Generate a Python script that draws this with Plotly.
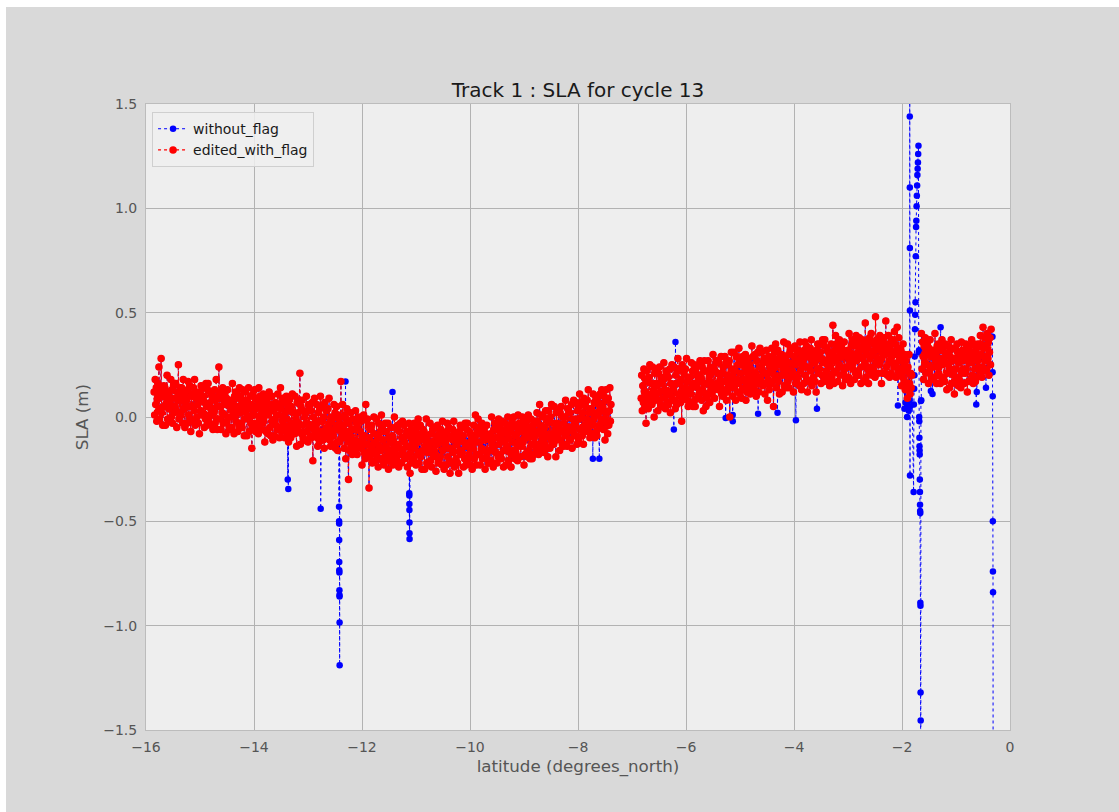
import plotly.graph_objects as go

# ---------------- data ----------------
# along-track latitude (degrees_north) and SLA (cm), three valid stretches
seg_a_lat = [
    -15.85, -15.84, -15.83, -15.82, -15.81, -15.80, -15.79, -15.78, -15.77, -15.76,
    -15.75, -15.74, -15.73, -15.72, -15.71, -15.70, -15.69, -15.68, -15.67, -15.66,
    -15.65, -15.64, -15.63, -15.62, -15.61, -15.60, -15.59, -15.58, -15.57, -15.56,
    -15.55, -15.54, -15.53, -15.52, -15.51, -15.50, -15.49, -15.48, -15.47, -15.46,
    -15.45, -15.44, -15.43, -15.42, -15.41, -15.40, -15.39, -15.38, -15.37, -15.36,
    -15.35, -15.34, -15.33, -15.32, -15.31, -15.30, -15.29, -15.28, -15.27, -15.26,
    -15.25, -15.24, -15.23, -15.22, -15.21, -15.20, -15.19, -15.18, -15.17, -15.16,
    -15.15, -15.14, -15.13, -15.12, -15.11, -15.10, -15.09, -15.08, -15.07, -15.06,
    -15.05, -15.04, -15.03, -15.02, -15.01, -15.00, -14.99, -14.98, -14.97, -14.96,
    -14.95, -14.94, -14.93, -14.92, -14.91, -14.90, -14.89, -14.88, -14.87, -14.86,
    -14.85, -14.84, -14.83, -14.82, -14.81, -14.80, -14.79, -14.78, -14.77, -14.76,
    -14.75, -14.74, -14.73, -14.72, -14.71, -14.70, -14.69, -14.68, -14.67, -14.66,
    -14.65, -14.64, -14.63, -14.62, -14.61, -14.60, -14.59, -14.58, -14.57, -14.56,
    -14.55, -14.54, -14.53, -14.52, -14.51, -14.50, -14.49, -14.48, -14.47, -14.46,
    -14.45, -14.44, -14.43, -14.42, -14.41, -14.40, -14.39, -14.38, -14.37, -14.36,
    -14.35, -14.34, -14.33, -14.32, -14.31, -14.30, -14.29, -14.28, -14.27, -14.26,
    -14.25, -14.24, -14.23, -14.22, -14.21, -14.20, -14.19, -14.18, -14.17, -14.16,
    -14.15, -14.14, -14.13, -14.12, -14.11, -14.10, -14.09, -14.08, -14.07, -14.06,
    -14.05, -14.04, -14.03, -14.02, -14.01, -14.00, -13.99, -13.98, -13.97, -13.96,
    -13.95, -13.94, -13.93, -13.92, -13.91, -13.90, -13.89, -13.88, -13.87, -13.86,
    -13.85, -13.84, -13.83, -13.82, -13.81, -13.80, -13.79, -13.78, -13.77, -13.76,
    -13.75, -13.74, -13.73, -13.72, -13.71, -13.70, -13.69, -13.68, -13.67, -13.66,
    -13.65, -13.64, -13.63, -13.62, -13.61, -13.60, -13.59, -13.58, -13.57, -13.56,
    -13.55, -13.54, -13.53, -13.52, -13.51, -13.50, -13.49, -13.48, -13.47, -13.46,
    -13.45, -13.44, -13.43, -13.42, -13.41, -13.40, -13.39, -13.38, -13.37, -13.36,
    -13.35, -13.34, -13.33, -13.32, -13.31, -13.30, -13.29, -13.28, -13.27, -13.26,
    -13.25, -13.24, -13.23, -13.22, -13.21, -13.20, -13.19, -13.18, -13.17, -13.16,
    -13.15, -13.14, -13.13, -13.12, -13.11, -13.10, -13.09, -13.08, -13.07, -13.06,
    -13.05, -13.04, -13.03, -13.02, -13.01, -13.00, -12.99, -12.98, -12.97, -12.96,
    -12.95, -12.94, -12.93, -12.92, -12.91, -12.90, -12.89, -12.88, -12.87, -12.86,
    -12.85, -12.84, -12.83, -12.82, -12.81, -12.80, -12.79, -12.78, -12.77, -12.76,
    -12.75, -12.74, -12.73, -12.72, -12.71, -12.70, -12.69, -12.68, -12.67, -12.66,
    -12.65, -12.64, -12.63, -12.62, -12.61, -12.60, -12.59, -12.58, -12.57, -12.56,
    -12.55, -12.54, -12.53, -12.52, -12.51, -12.50, -12.49, -12.48, -12.47, -12.46,
    -12.45, -12.44, -12.43, -12.42, -12.41, -12.40, -12.39, -12.38, -12.37, -12.36,
    -12.35, -12.34, -12.33, -12.32, -12.31, -12.30, -12.29, -12.28, -12.27, -12.26,
    -12.25, -12.24, -12.23, -12.22, -12.21, -12.20, -12.19, -12.18, -12.17, -12.16,
    -12.15, -12.14, -12.13, -12.12, -12.11, -12.10, -12.09, -12.08, -12.07, -12.06,
    -12.05, -12.04, -12.03, -12.02, -12.01, -12.00, -11.99, -11.98, -11.97, -11.96,
    -11.95, -11.94, -11.93, -11.92, -11.91, -11.90, -11.89, -11.88, -11.87, -11.86,
    -11.85, -11.84, -11.83, -11.82, -11.81, -11.80, -11.79, -11.78, -11.77, -11.76,
    -11.75, -11.74, -11.73, -11.72, -11.71, -11.70, -11.69, -11.68, -11.67, -11.66,
    -11.65, -11.64, -11.63, -11.62, -11.61, -11.60, -11.59, -11.58, -11.57, -11.56,
    -11.55, -11.54, -11.53, -11.52, -11.51, -11.50, -11.49, -11.48, -11.47, -11.46,
    -11.45, -11.44, -11.43, -11.42, -11.41, -11.40, -11.39, -11.38, -11.37, -11.36,
    -11.35, -11.34, -11.33, -11.32, -11.31, -11.30, -11.29, -11.28, -11.27, -11.26,
    -11.25, -11.24, -11.23, -11.22, -11.21, -11.20, -11.19, -11.18, -11.17, -11.16,
    -11.15, -11.14, -11.13, -11.12, -11.11, -11.10, -11.09, -11.08, -11.07, -11.06,
    -11.05, -11.04, -11.03, -11.02, -11.01, -11.00, -10.99, -10.98, -10.97, -10.96,
    -10.95, -10.94, -10.93, -10.92, -10.91, -10.90, -10.89, -10.88, -10.87, -10.86,
    -10.85, -10.84, -10.83, -10.82, -10.81, -10.80, -10.79, -10.78, -10.77, -10.76,
    -10.75, -10.74, -10.73, -10.72, -10.71, -10.70, -10.69, -10.68, -10.67, -10.66,
    -10.65, -10.64, -10.63, -10.62, -10.61, -10.60, -10.59, -10.58, -10.57, -10.56,
    -10.55, -10.54, -10.53, -10.52, -10.51, -10.50, -10.49, -10.48, -10.47, -10.46,
    -10.45, -10.44, -10.43, -10.42, -10.41, -10.40, -10.39, -10.38, -10.37, -10.36,
    -10.35, -10.34, -10.33, -10.32, -10.31, -10.30, -10.29, -10.28, -10.27, -10.26,
    -10.25, -10.24, -10.23, -10.22, -10.21, -10.20, -10.19, -10.18, -10.17, -10.16,
    -10.15, -10.14, -10.13, -10.12, -10.11, -10.10, -10.09, -10.08, -10.07, -10.06,
    -10.05, -10.04, -10.03, -10.02, -10.01, -10.00, -9.99, -9.98, -9.97, -9.96,
    -9.95, -9.94, -9.93, -9.92, -9.91, -9.90, -9.89, -9.88, -9.87, -9.86,
    -9.85, -9.84, -9.83, -9.82, -9.81, -9.80, -9.79, -9.78, -9.77, -9.76,
    -9.75, -9.74, -9.73, -9.72, -9.71, -9.70, -9.69, -9.68, -9.67, -9.66,
    -9.65, -9.64, -9.63, -9.62, -9.61, -9.60, -9.59, -9.58, -9.57, -9.56,
    -9.55, -9.54, -9.53, -9.52, -9.51, -9.50, -9.49, -9.48, -9.47, -9.46,
    -9.45, -9.44, -9.43, -9.42, -9.41, -9.40, -9.39, -9.38, -9.37, -9.36,
    -9.35, -9.34, -9.33, -9.32, -9.31, -9.30, -9.29, -9.28, -9.27, -9.26,
    -9.25, -9.24, -9.23, -9.22, -9.21, -9.20, -9.19, -9.18, -9.17, -9.16,
    -9.15, -9.14, -9.13, -9.12, -9.11, -9.10, -9.09, -9.08, -9.07, -9.06,
    -9.05, -9.04, -9.03, -9.02, -9.01, -9.00, -8.99, -8.98, -8.97, -8.96,
    -8.95, -8.94, -8.93, -8.92, -8.91, -8.90, -8.89, -8.88, -8.87, -8.86,
    -8.85, -8.84, -8.83, -8.82, -8.81, -8.80, -8.79, -8.78, -8.77, -8.76,
    -8.75, -8.74, -8.73, -8.72, -8.71, -8.70, -8.69, -8.68, -8.67, -8.66,
    -8.65, -8.64, -8.63, -8.62, -8.61, -8.60, -8.59, -8.58, -8.57, -8.56,
    -8.55, -8.54, -8.53, -8.52, -8.51, -8.50, -8.49, -8.48, -8.47, -8.46,
    -8.45, -8.44, -8.43, -8.42, -8.41, -8.40, -8.39, -8.38, -8.37, -8.36,
    -8.35, -8.34, -8.33, -8.32, -8.31, -8.30, -8.29, -8.28, -8.27, -8.26,
    -8.25, -8.24, -8.23, -8.22, -8.21, -8.20, -8.19, -8.18, -8.17, -8.16,
    -8.15, -8.14, -8.13, -8.12, -8.11, -8.10, -8.09, -8.08, -8.07, -8.06,
    -8.05, -8.04, -8.03, -8.02, -8.01, -8.00, -7.99, -7.98, -7.97, -7.96,
    -7.95, -7.94, -7.93, -7.92, -7.91, -7.90, -7.89, -7.88, -7.87, -7.86,
    -7.85, -7.84, -7.83, -7.82, -7.81, -7.80, -7.79, -7.78, -7.77, -7.76,
    -7.75, -7.74, -7.73, -7.72, -7.71, -7.70, -7.69, -7.68, -7.67, -7.66,
    -7.65, -7.64, -7.63, -7.62, -7.61, -7.60, -7.59, -7.58, -7.57, -7.56,
    -7.55, -7.54, -7.53, -7.52, -7.51, -7.50, -7.49, -7.48, -7.47, -7.46,
    -7.45, -7.44, -7.43, -7.42, -7.41, -7.40, -7.39,
]
seg_a_sla_cm = [
    12, 1, 18, 6, 14, -2, 9, 16, 3, 24,
    -1, 11, 4, 28, 2, 13, -4, 10, 15, 5,
    14, -4, 10, 7, 20, -1, 12, 4, 9, -2,
    6, 18, 0, 13, -3, 9, 15, 2, 16, 5,
    16, 3, -5, 12, 8, 25, -1, 10, 1, 14,
    1, 14, 8, -3, 18, 4, 10, -5, 12, 6,
    8, -3, 13, 17, 1, 5, 15, -1, -7, 10,
    -2, 11, 5, 14, 3, 18, -4, 9, 12, 0,
    11, 6, -3, 9, -8, 12, 3, 15, 1, 8,
    2, 14, 10, -5, 7, -1, 16, 5, -4, 13,
    16, -1, 6, 1, 12, 4, -4, 10, 8, -6,
    4, 2, 13, -3, 8, 18, -1, -6, 5, 10,
    24, -1, 12, 5, -6, 10, 2, 14, -3, 8,
    1, 11, 6, -8, 9, -2, 13, 0, 7, -5,
    -6, 5, 0, 8, -5, 16, 3, 6, -8, 10,
    1, 12, -2, 11, 5, -7, 9, -4, 14, 2,
    10, -3, 6, -5, 13, 4, 8, -9, -1, 12,
    2, 8, -9, 6, 0, 14, -7, 4, 10, -3,
    6, -15, -5, 11, 1, -3, 13, 9, -7, 4,
    -4, 8, 5, -8, 14, -1, 10, 1, 7, -6,
    4, -3, 11, -1, 8, -12, 5, -7, 2, 7,
    9, -8, 1, 12, -5, 3, -9, 6, 10, -2,
    -11, 3, 5, -9, -1, 7, -4, 1, -6, 11,
    6, 1, -10, -5, 14, 4, -7, 9, -2, 0,
    -4, 7, -10, 2, -6, 10, -1, -8, 5, -12,
    8, -4, 3, -10, 5, -6, 11, -3, -8, 2,
    -8, 10, -4, -1, -14, 7, -6, 2, -3, 8,
    21, -13, 5, -8, 8, -4, -10, 3, -11, 0,
    -11, 2, 10, -7, -3, -12, 6, -5, 4, -9,
    3, -10, -4, 7, -21, 0, -6, 9, -8, -2,
    -5, 6, -10, -14, 2, -2, -12, 4, 10, -7,
    5, -8, -2, -11, 0, -15, 7, -6, -9, 3,
    -10, -5, 4, -8, 9, -11, -2, -14, 0, -7,
    -1, -13, -9, 6, -6, 2, -15, -4, 5, -12,
    -16, 1, -6, -1, -12, -4, 17, -10, -8, 6,
    -6, -4, -15, 1, -10, -20, -1, 4, -7, -12,
    -30, -3, -16, -9, 2, -14, -6, -18, -1, -12,
    -6, -16, -11, 3, -14, -3, -18, -5, -12, 0,
    -1, -12, -7, -15, -2, -23, -10, -13, 1, -17,
    -9, -20, 6, -19, -13, -1, -17, -4, -34, -10,
    -19, -6, -15, -4, -22, -13, -17, 0, -8, -21,
    -12, -18, -1, -16, -10, -24, -3, -14, -20, -7,
    -16, 1, -5, -21, -11, -7, -23, -19, -3, -14,
    -7, -19, -16, -3, -25, -10, -21, -12, -18, -5,
    -16, -9, -23, -11, -20, 0, -17, -5, -14, -19,
    -21, -4, -13, -24, -7, -15, -3, -18, -22, -10,
    -2, -16, -18, -4, -12, -20, -9, -14, -7, -24,
    -19, -14, -3, -8, -27, -17, -6, -22, -11, -13,
    -9, -20, -3, -15, -7, -23, -12, -5, -18, -1,
    -22, -10, -17, -4, -19, -8, -25, -11, -6, -16,
    -7, -25, -11, -14, -1, -22, -9, -17, -12, -23,
    -15, -3, -21, -8, -24, -12, -6, -19, -5, -16,
    -5, -18, -26, -9, -13, -4, -22, -11, -20, -7,
    -19, -6, -12, -23, -2, -16, -10, -25, -8, -14,
    -12, -23, -7, -3, -19, -15, -5, -21, -27, -10,
    -22, -9, -15, -6, -17, -2, -24, -11, -8, -20,
    -8, -13, -22, -10, -27, -7, -16, -4, -18, -11,
    -17, -5, -9, -24, -12, -20, -3, -14, -23, -6,
    -3, -20, -13, -18, -7, -15, -23, -9, -11, -25,
    -13, -15, -4, -20, -9, 1, -18, -23, -12, -7,
    -1, -18, -5, -12, -23, -7, -15, -3, -20, -9,
    -16, -6, -11, -25, -8, -19, -4, -17, -10, -22,
    -22, -11, -16, -8, -21, 0, -13, -10, -24, -6,
    -14, -3, -17, -4, -10, -22, -6, -19, -1, -13,
    -5, -18, -9, -20, -2, -11, -7, -24, -16, -3,
    -12, -6, -23, -8, -14, 0, -21, -10, -4, -17,
    -7, -24, -18, -2, -12, -16, 0, -4, -20, -9,
    -17, -5, -8, -21, 1, -14, -3, -12, -6, -19,
    -7, -14, 0, -12, -3, -23, -6, -18, -9, -4,
    -2, -19, -10, 1, -16, -8, -20, -5, -1, -13,
    -20, -6, -4, -18, -10, -2, -13, -8, -15, 2,
    -2, -7, -18, -13, 6, -4, -15, 1, -10, -8,
    -11, 0, -17, -5, -13, 3, -8, -15, -2, -19,
    3, -9, -2, -15, 0, -11, 6, -8, -13, -3,
    -13, 5, -9, -6, -19, 2, -11, -3, -8, 3,
    -4, -16, 2, -11, 5, -7, -13, 0, -14, -3,
    -13, 0, 8, -9, -5, -14, 4, -7, 2, -11,
    2, -11, -5, 6, -15, -1, -7, 8, -9, -3,
    -4, 7, -9, -13, 3, -1, -11, 5, 11, -6,
    7, -6, 0, -9, 2, -13, 9, -4, -7, 5,
    -6, -1, 8, -4, 13, -7, 2, -10, 4, -3,
    4, -8, -4, 11, -1, 7, -10, 1, 10, -7,
    -9, 8, 1, 6, -5, 3, 11, -3, -1, 13,
    3, 5, -6, 10, -1, -11, 8, 13, 2, -3,
    -8, 9, -4, 3, 14, -2, 6,
]

seg_b_lat = [
    -6.83, -6.82, -6.81, -6.80, -6.79, -6.78, -6.77, -6.76, -6.75, -6.74,
    -6.73, -6.72, -6.71, -6.70, -6.69, -6.68, -6.67, -6.66, -6.65, -6.64,
    -6.63, -6.62, -6.61, -6.60, -6.59, -6.58, -6.57, -6.56, -6.55, -6.54,
    -6.53, -6.52, -6.51, -6.50, -6.49, -6.48, -6.47, -6.46, -6.45, -6.44,
    -6.43, -6.42, -6.41, -6.40, -6.39, -6.38, -6.37, -6.36, -6.35, -6.34,
    -6.33, -6.32, -6.31, -6.30, -6.29, -6.28, -6.27, -6.26, -6.25, -6.24,
    -6.23, -6.22, -6.21, -6.20, -6.19, -6.18, -6.17, -6.16, -6.15, -6.14,
    -6.13, -6.12, -6.11, -6.10, -6.09, -6.08, -6.07, -6.06, -6.05, -6.04,
    -6.03, -6.02, -6.01, -6.00, -5.99, -5.98, -5.97, -5.96, -5.95, -5.94,
    -5.93, -5.92, -5.91, -5.90, -5.89, -5.88, -5.87, -5.86, -5.85, -5.84,
    -5.83, -5.82, -5.81, -5.80, -5.79, -5.78, -5.77, -5.76, -5.75, -5.74,
    -5.73, -5.72, -5.71, -5.70, -5.69, -5.68, -5.67, -5.66, -5.65, -5.64,
    -5.63, -5.62, -5.61, -5.60, -5.59, -5.58, -5.57, -5.56, -5.55, -5.54,
    -5.53, -5.52, -5.51, -5.50, -5.49, -5.48, -5.47, -5.46, -5.45, -5.44,
    -5.43, -5.42, -5.41, -5.40, -5.39, -5.38, -5.37, -5.36, -5.35, -5.34,
    -5.33, -5.32, -5.31, -5.30, -5.29, -5.28, -5.27, -5.26, -5.25, -5.24,
    -5.23, -5.22, -5.21, -5.20, -5.19, -5.18, -5.17, -5.16, -5.15, -5.14,
    -5.13, -5.12, -5.11, -5.10, -5.09, -5.08, -5.07, -5.06, -5.05, -5.04,
    -5.03, -5.02, -5.01, -5.00, -4.99, -4.98, -4.97, -4.96, -4.95, -4.94,
    -4.93, -4.92, -4.91, -4.90, -4.89, -4.88, -4.87, -4.86, -4.85, -4.84,
    -4.83, -4.82, -4.81, -4.80, -4.79, -4.78, -4.77, -4.76, -4.75, -4.74,
    -4.73, -4.72, -4.71, -4.70, -4.69, -4.68, -4.67, -4.66, -4.65, -4.64,
    -4.63, -4.62, -4.61, -4.60, -4.59, -4.58, -4.57, -4.56, -4.55, -4.54,
    -4.53, -4.52, -4.51, -4.50, -4.49, -4.48, -4.47, -4.46, -4.45, -4.44,
    -4.43, -4.42, -4.41, -4.40, -4.39, -4.38, -4.37, -4.36, -4.35, -4.34,
    -4.33, -4.32, -4.31, -4.30, -4.29, -4.28, -4.27, -4.26, -4.25, -4.24,
    -4.23, -4.22, -4.21, -4.20, -4.19, -4.18, -4.17, -4.16, -4.15, -4.14,
    -4.13, -4.12, -4.11, -4.10, -4.09, -4.08, -4.07, -4.06, -4.05, -4.04,
    -4.03, -4.02, -4.01, -4.00, -3.99, -3.98, -3.97, -3.96, -3.95, -3.94,
    -3.93, -3.92, -3.91, -3.90, -3.89, -3.88, -3.87, -3.86, -3.85, -3.84,
    -3.83, -3.82, -3.81, -3.80, -3.79, -3.78, -3.77, -3.76, -3.75, -3.74,
    -3.73, -3.72, -3.71, -3.70, -3.69, -3.68, -3.67, -3.66, -3.65, -3.64,
    -3.63, -3.62, -3.61, -3.60, -3.59, -3.58, -3.57, -3.56, -3.55, -3.54,
    -3.53, -3.52, -3.51, -3.50, -3.49, -3.48, -3.47, -3.46, -3.45, -3.44,
    -3.43, -3.42, -3.41, -3.40, -3.39, -3.38, -3.37, -3.36, -3.35, -3.34,
    -3.33, -3.32, -3.31, -3.30, -3.29, -3.28, -3.27, -3.26, -3.25, -3.24,
    -3.23, -3.22, -3.21, -3.20, -3.19, -3.18, -3.17, -3.16, -3.15, -3.14,
    -3.13, -3.12, -3.11, -3.10, -3.09, -3.08, -3.07, -3.06, -3.05, -3.04,
    -3.03, -3.02, -3.01, -3.00, -2.99, -2.98, -2.97, -2.96, -2.95, -2.94,
    -2.93, -2.92, -2.91, -2.90, -2.89, -2.88, -2.87, -2.86, -2.85, -2.84,
    -2.83, -2.82, -2.81, -2.80, -2.79, -2.78, -2.77, -2.76, -2.75, -2.74,
    -2.73, -2.72, -2.71, -2.70, -2.69, -2.68, -2.67, -2.66, -2.65, -2.64,
    -2.63, -2.62, -2.61, -2.60, -2.59, -2.58, -2.57, -2.56, -2.55, -2.54,
    -2.53, -2.52, -2.51, -2.50, -2.49, -2.48, -2.47, -2.46, -2.45, -2.44,
    -2.43, -2.42, -2.41, -2.40, -2.39, -2.38, -2.37, -2.36, -2.35, -2.34,
    -2.33, -2.32, -2.31, -2.30, -2.29, -2.28, -2.27, -2.26, -2.25, -2.24,
    -2.23, -2.22, -2.21, -2.20, -2.19, -2.18, -2.17, -2.16, -2.15, -2.14,
    -2.13, -2.12, -2.11, -2.10, -2.09, -2.08, -2.07, -2.06, -2.05, -2.04,
    -2.03, -2.02, -2.01, -2.00, -1.99, -1.98, -1.97, -1.96, -1.95, -1.94,
    -1.93, -1.92, -1.91, -1.90, -1.89, -1.88, -1.87, -1.86, -1.85, -1.84,
    -1.83, -1.82,
]
seg_b_sla_cm = [
    9, 20, 3, 15, 7, 23, 12, 5, 18, -3,
    22, 10, 17, 4, 19, 8, 25, 11, 6, 16,
    6, 24, 10, 13, 0, 21, 8, 16, 11, 22,
    15, 3, 21, 8, 24, 12, 6, 19, 5, 16,
    5, 18, 26, 9, 13, 4, 22, 11, 20, 7,
    19, 6, 12, 23, 2, 16, 10, 25, 8, 14,
    13, 24, 8, 4, 20, 16, 6, 22, 28, 11,
    23, 10, 16, 7, 18, -2, 25, 12, 9, 21,
    9, 14, 23, 11, 28, 8, 17, 5, 19, 12,
    19, 7, 11, 26, 14, 22, 5, 16, 25, 8,
    5, 22, 15, 20, 9, 17, 25, 11, 13, 27,
    17, 19, 8, 24, 13, 3, 22, 27, 16, 11,
    5, 22, 9, 16, 27, 11, 19, 7, 24, 13,
    21, 11, 16, 30, 13, 24, 9, 22, 15, 27,
    27, 16, 21, 13, 26, 5, 18, 15, 29, 11,
    21, 10, 24, 11, 17, 29, 13, 26, 8, 20,
    12, 25, 16, 27, 0, 18, 14, 31, 23, 10,
    20, 14, 31, 16, 22, 8, 29, 18, 12, 25,
    16, 33, 27, 11, 21, 25, 9, 13, 29, 18,
    26, 14, 17, 30, 8, 23, 12, 21, 15, 28,
    18, 25, 11, 23, 14, 34, 17, 29, 20, 15,
    13, 30, 21, 10, 27, 19, 31, 16, 12, 24,
    33, 19, 17, 31, 23, 15, 26, 21, 28, 11,
    16, 21, 32, 27, 8, 18, 29, 13, 24, 22,
    27, 16, 33, 21, 29, 5, 24, 31, 18, 35,
    14, 26, 19, 32, 17, 28, 11, 25, 30, 20,
    30, 12, 26, 23, 36, 15, 28, 20, 25, 14,
    23, 35, 17, 30, 14, 26, 32, 19, 33, 22,
    33, 20, 12, 29, 25, 34, 16, 27, 18, 31,
    19, 32, 26, 15, 36, 22, 28, 13, 30, 24,
    27, 16, 32, 36, 20, 24, 34, 18, 12, 29,
    17, 30, 24, 33, 22, 37, 15, 28, 31, 19,
    31, 26, 17, 29, 12, 32, 23, 35, 21, 28,
    23, 35, 31, 16, 28, 20, 37, 26, 17, 34,
    37, 20, 27, 22, 33, 25, 17, 31, 29, 15,
    26, 24, 35, 19, 30, 44, 21, 16, 27, 32,
    39, 22, 35, 28, 17, 33, 25, 37, 20, 31,
    24, 34, 29, 15, 32, 21, 36, 23, 30, 18,
    18, 29, 24, 32, 19, 40, 27, 30, 16, 34,
    26, 37, 23, 36, 30, 18, 34, 21, 39, 27,
    35, 22, 31, 20, 38, 29, 33, 16, 24, 37,
    28, 34, 17, 32, 26, 45, 19, 30, 36, 23,
    33, 16, 22, 38, 28, 24, 40, 36, 20, 31,
    23, 35, 32, 19, 48, 26, 37, 28, 34, 21,
    32, 25, 39, 27, 36, 16, 33, 21, 30, 35,
    38, 21, 30, 46, 24, 32, 20, 35, 39, 27,
    19, 33, 35, 21, 29, 37, 26, 31, 24, 41,
    35, 30, 19, 24, 43, 33, 22, 38, 27, 29,
    21, 32, 15, 27, 19, 35, 24, 17, 30, 13,
    27, 15, 22, 9, 24, 13, 30, 16, 11, 21,
    14, 20,
]

seg_c_lat = [
    -1.64, -1.63, -1.62, -1.61, -1.60, -1.59, -1.58, -1.57, -1.56, -1.55,
    -1.54, -1.53, -1.52, -1.51, -1.50, -1.49, -1.48, -1.47, -1.46, -1.45,
    -1.44, -1.43, -1.42, -1.41, -1.40, -1.39, -1.38, -1.37, -1.36, -1.35,
    -1.34, -1.33, -1.32, -1.31, -1.30, -1.29, -1.28, -1.27, -1.26, -1.25,
    -1.24, -1.23, -1.22, -1.21, -1.20, -1.19, -1.18, -1.17, -1.16, -1.15,
    -1.14, -1.13, -1.12, -1.11, -1.10, -1.09, -1.08, -1.07, -1.06, -1.05,
    -1.04, -1.03, -1.02, -1.01, -1.00, -0.99, -0.98, -0.97, -0.96, -0.95,
    -0.94, -0.93, -0.92, -0.91, -0.90, -0.89, -0.88, -0.87, -0.86, -0.85,
    -0.84, -0.83, -0.82, -0.81, -0.80, -0.79, -0.78, -0.77, -0.76, -0.75,
    -0.74, -0.73, -0.72, -0.71, -0.70, -0.69, -0.68, -0.67, -0.66, -0.65,
    -0.64, -0.63, -0.62, -0.61, -0.60, -0.59, -0.58, -0.57, -0.56, -0.55,
    -0.54, -0.53, -0.52, -0.51, -0.50, -0.49, -0.48, -0.47, -0.46, -0.45,
    -0.44, -0.43, -0.42, -0.41, -0.40, -0.39, -0.38, -0.37, -0.36, -0.35,
]
seg_c_sla_cm = [
    40, 23, 36, 29, 18, 34, 26, 38, 21, 32,
    25, 35, 30, 16, 33, 22, 37, 24, 31, 19,
    18, 29, 24, 32, 19, 40, 27, 30, 16, 34,
    24, 35, 21, 34, 28, 16, 32, 19, 37, 25,
    32, 19, 28, 17, 35, 26, 30, 13, 21, 34,
    25, 31, 14, 29, 23, 37, 16, 27, 33, 20,
    28, 11, 17, 33, 23, 19, 35, 31, 15, 26,
    18, 30, 27, 14, 36, 21, 32, 23, 29, 16,
    28, 21, 35, 23, 32, 12, 29, 17, 26, 31,
    34, 17, 26, 37, 20, 28, 16, 31, 35, 23,
    17, 31, 33, 19, 27, 35, 24, 29, 22, 39,
    35, 30, 19, 24, 43, 33, 22, 38, 27, 29,
    34, 23, 40, 28, 36, 20, 31, 38, 25, 42,
]

# points removed by the editing flag (only present in "without_flag"), SLA in m
flag_lat = [
    -13.375, -13.365, -12.765,
    -12.425, -12.424, -12.423, -12.422, -12.421, -12.4205,
    -12.419, -12.418, -12.417, -12.416, -12.415, -12.414,
    -12.305, -11.435,
    -11.125, -11.124, -11.123, -11.122, -11.121, -11.1205, -11.119,
    -7.725, -7.605, -6.225, -6.195, -5.265, -5.135, -5.134,
    -4.665, -4.305, -3.965, -3.575, -2.075,
    -1.955, -1.935, -1.905, -1.895, -1.875,
    -1.858, -1.857, -1.856, -1.855, -1.854, -1.853, -1.852, -1.851,
    -1.785, -1.780, -1.775, -1.770, -1.765, -1.760, -1.755, -1.750,
    -1.745, -1.740, -1.735, -1.730, -1.725, -1.720, -1.715, -1.710,
    -1.705, -1.700, -1.695, -1.690,
    -1.684, -1.682, -1.680, -1.678, -1.676, -1.674, -1.672, -1.670,
    -1.668, -1.666, -1.664, -1.662, -1.660, -1.658, -1.656, -1.654,
    -1.652, -1.650, -1.643,
    -1.465, -1.435, -1.285, -0.625, -0.615, -0.445,
    -0.325, -0.322, -0.320, -0.318, -0.316, -0.314, -0.312,
]
flag_sla = [
    -0.30, -0.345, -0.44,
    -0.43, -0.50, -0.51, -0.59, -0.695, -0.735,
    -0.745, -0.83, -0.853, -0.86, -0.985, -1.19,
    0.17, 0.12,
    -0.366, -0.376, -0.417, -0.446, -0.506, -0.557, -0.585,
    -0.20, -0.20, -0.06, 0.36, -0.005, 0.01, -0.02,
    0.015, 0.02, -0.015, 0.04, 0.055,
    0.04, 0.07, 0.00, 0.06, 0.03,
    0.08, 2.20, 1.44, 1.10, 0.81, 0.51, -0.28, 0.05,
    -0.36, 0.06, 0.135, 0.20, 0.29, 0.42, 0.49, 0.55,
    0.77, 0.91, 0.94, 1.01, 1.06, 1.11, 1.16, 1.19,
    1.22, 1.26, 1.30, 0.31,
    0.32, 0.00, -0.02, -0.10, -0.14, -0.16, -0.18, -0.30,
    -0.36, -0.42, -0.45, -0.46, -0.89, -0.905, -1.32, -1.455,
    -2.00, 0.077, 0.08,
    0.125, 0.11, 0.43, 0.06, 0.12, 0.14,
    0.385, 0.215, 0.10, -0.50, -0.74, -0.84, -2.50,
]

# ---------------- build series ----------------
seg_a_sla = [v / 100 for v in seg_a_sla_cm]
seg_b_sla = [v / 100 for v in seg_b_sla_cm]
seg_c_sla = [v / 100 for v in seg_c_sla_cm]

edited_x = seg_a_lat + [None] + seg_b_lat + [None] + seg_c_lat
edited_y = seg_a_sla + [None] + seg_b_sla + [None] + seg_c_sla

all_pts = sorted(
    list(zip(seg_a_lat + seg_b_lat + seg_c_lat, seg_a_sla + seg_b_sla + seg_c_sla))
    + list(zip(flag_lat, flag_sla)),
    key=lambda p: p[0],
)
raw_x, raw_y = [], []
prev = None
for lat, v in all_pts:
    if prev is not None and lat - prev > 0.3:   # data gap -> break the line
        raw_x.append(None)
        raw_y.append(None)
    raw_x.append(lat)
    raw_y.append(v)
    prev = lat

fig = go.Figure()
fig.add_trace(go.Scatter(
    x=raw_x, y=raw_y, mode="lines+markers", name="without_flag",
    line=dict(color="#0000ff", width=1, dash="dot"),
    marker=dict(color="#0000ff", size=6.5, line=dict(width=0)),
    connectgaps=False,
))
fig.add_trace(go.Scatter(
    x=edited_x, y=edited_y, mode="lines+markers", name="edited_with_flag",
    line=dict(color="#ff0000", width=1.2, dash="dot"),
    marker=dict(color="#ff0000", size=7.5, line=dict(width=0)),
    connectgaps=False,
))

FONT = "DejaVu Sans, Liberation Sans, sans-serif"
fig.update_layout(
    width=1119, height=812, autosize=False,
    margin=dict(l=146, r=109, t=104, b=82),
    paper_bgcolor="#d9d9d9",
    plot_bgcolor="#eeeeee",
    font=dict(family=FONT, color="#555555", size=14),
    title=dict(text="Track 1 : SLA for cycle 13", x=0.5, xref="paper", xanchor="center",
               y=1 - 90 / 812, yref="container", yanchor="middle",
               font=dict(size=20, color="#1a1a1a", family=FONT)),
    showlegend=True,
    legend=dict(x=0.007, y=0.987, xanchor="left", yanchor="top",
                bgcolor="rgba(238,238,238,0.85)", bordercolor="#cfcfcf", borderwidth=1,
                font=dict(size=14, color="#1a1a1a", family=FONT),
                itemwidth=30, tracegroupgap=0),
    shapes=[
        dict(type="rect", xref="paper", yref="paper", x0=-0.3, x1=(6 - 146) / 864,
             y0=-0.3, y1=1.3, fillcolor="white", line=dict(width=0), layer="below"),
        dict(type="rect", xref="paper", yref="paper", x0=-0.3, x1=1.3,
             y0=(730 - 7) / 626, y1=1.3, fillcolor="white", line=dict(width=0), layer="below"),
    ],
)
fig.update_xaxes(
    range=[-16, 0], tick0=-16, dtick=2, showgrid=True, gridcolor="#b2b2b2", gridwidth=1,
    zeroline=False, showline=True, mirror=True, linecolor="#bcbcbc", linewidth=1,
    ticks="outside", ticklen=4, tickcolor="rgba(0,0,0,0)",
    tickfont=dict(size=14, color="#555555"),
    title=dict(text="latitude (degrees_north)", font=dict(size=16.7, color="#555555"), standoff=6),
)
fig.update_yaxes(
    range=[-1.5, 1.5], tick0=-1.5, dtick=0.5, tickformat=".1f", showgrid=True,
    gridcolor="#b2b2b2", gridwidth=1,
    zeroline=False, showline=True, mirror=True, linecolor="#bcbcbc", linewidth=1,
    ticks="outside", ticklen=5, tickcolor="rgba(0,0,0,0)",
    tickfont=dict(size=14, color="#555555"),
    title=dict(text="SLA (m)", font=dict(size=16.7, color="#555555"), standoff=10),
)

fig.write_html(
    "out.html",
    config={"displayModeBar": False},
    post_script="document.body.style.margin='0';document.documentElement.style.overflow='hidden';document.body.style.overflow='hidden';",
)
